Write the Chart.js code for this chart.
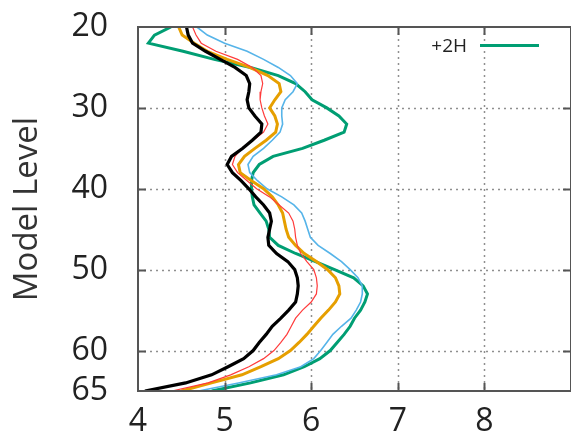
<!DOCTYPE html>
<html>
<head>
<meta charset="utf-8">
<script src="https://cdn.jsdelivr.net/npm/chart.js@4.4.0/dist/chart.umd.min.js"></script>
<style>
  body { margin: 0; background: #fff; }
  #wrap { width: 571px; height: 442px; }
</style>
</head>
<body>
<div id="wrap"><canvas id="myChart" width="571" height="442"></canvas></div>
<script>
// model levels 20..65 (y axis, reversed)
const levels = [20, 21, 22, 23, 24, 25, 26, 27, 28, 29, 30, 31, 32, 33, 34, 35, 36, 37, 38, 39, 40, 41, 42,
    43, 44, 45, 46, 47, 48, 49, 50, 51, 52, 53, 54, 55, 56, 57, 58, 59, 60, 61, 62, 63, 64, 65];

const blackVals = [4.56, 4.58, 4.63, 4.78, 4.95, 5.12, 5.25, 5.29, 5.28, 5.26, 5.28, 5.35, 5.43, 5.42, 5.32,
    5.21, 5.08, 5.03, 5.09, 5.19, 5.28, 5.36, 5.45, 5.52, 5.54, 5.52, 5.50, 5.51, 5.60, 5.73, 5.81, 5.84,
    5.85, 5.84, 5.82, 5.74, 5.65, 5.55, 5.48, 5.40, 5.33, 5.22, 5.04, 4.85, 4.55, 4.08];
const redVals = [4.63, 4.67, 4.73, 4.90, 5.15, 5.32, 5.42, 5.44, 5.42, 5.41, 5.43, 5.46, 5.50, 5.45, 5.33,
    5.20, 5.12, 5.09, 5.15, 5.26, 5.37, 5.52, 5.63, 5.74, 5.79, 5.81, 5.82, 5.84, 5.88, 5.95, 6.03, 6.06,
    6.07, 6.06, 6.00, 5.90, 5.82, 5.77, 5.72, 5.65, 5.57, 5.45, 5.28, 5.07, 4.81, 4.39];
const orangeVals = [4.47, 4.51, 4.65, 4.80, 5.03, 5.29, 5.50, 5.63, 5.65, 5.58, 5.52, 5.58, 5.61, 5.59, 5.48,
    5.35, 5.23, 5.16, 5.18, 5.31, 5.45, 5.55, 5.62, 5.67, 5.69, 5.71, 5.74, 5.82, 5.92, 6.06, 6.19, 6.28,
    6.32, 6.33, 6.28, 6.20, 6.11, 6.03, 5.95, 5.86, 5.76, 5.62, 5.42, 5.20, 4.85, 4.50];
const blueVals = [4.68, 4.80, 5.00, 5.26, 5.45, 5.62, 5.76, 5.84, 5.79, 5.70, 5.66, 5.66, 5.67, 5.64, 5.55,
    5.45, 5.33, 5.27, 5.29, 5.38, 5.49, 5.66, 5.80, 5.89, 5.93, 5.96, 5.99, 6.08, 6.22, 6.35, 6.45, 6.54,
    6.59, 6.59, 6.57, 6.52, 6.46, 6.35, 6.25, 6.18, 6.11, 6.03, 5.88, 5.60, 5.16, 4.70];
const greenVals = [4.38, 4.19, 4.12, 4.52, 4.88, 5.30, 5.62, 5.82, 5.93, 6.01, 6.18, 6.32, 6.41, 6.38, 6.15,
    5.90, 5.56, 5.40, 5.33, 5.31, 5.31, 5.32, 5.34, 5.41, 5.48, 5.51, 5.52, 5.62, 5.82, 6.05, 6.27, 6.49,
    6.60, 6.65, 6.62, 6.57, 6.50, 6.45, 6.38, 6.30, 6.22, 6.10, 5.92, 5.68, 5.30, 4.85];

const xTicks = [4, 5, 6, 7, 8];
const yTicks = [20, 30, 40, 50, 60, 65];
const xGrid = [5, 6, 7, 8];
const yGrid = [30, 40, 50, 60];
const legendLabel = "+2H";

function toPoints(vals) {
    return vals.map((v, i) => ({ x: v, y: levels[i] }));
}

const frameColor = "#555";

// dotted grid, box frame with inward ticks, and the single legend entry
const framePlugin = {
    id: "frame",
    beforeDatasetsDraw(chart) {
        const { ctx, chartArea: a, scales: { x, y } } = chart;
        ctx.save();
        ctx.strokeStyle = "#8f8f8f";
        ctx.lineWidth = 1.5;
        ctx.setLineDash([2, 4]);
        xGrid.forEach((v) => {
            const px = Math.round(x.getPixelForValue(v)) + 0.5;
            ctx.beginPath();
            ctx.moveTo(px, a.top);
            ctx.lineTo(px, a.bottom);
            ctx.stroke();
        });
        yGrid.forEach((v) => {
            const py = Math.round(y.getPixelForValue(v)) + 0.5;
            ctx.beginPath();
            ctx.moveTo(a.left, py);
            ctx.lineTo(a.right, py);
            ctx.stroke();
        });
        ctx.restore();
    },
    afterDatasetsDraw(chart) {
        const { ctx, chartArea: a, scales: { x, y } } = chart;
        ctx.save();
        ctx.strokeStyle = frameColor;
        ctx.lineWidth = 2;
        ctx.setLineDash([]);
        ctx.strokeRect(a.left, a.top, a.right - a.left, a.bottom - a.top);
        const tl = 8;
        ctx.beginPath();
        xGrid.forEach((v) => {
            const px = Math.round(x.getPixelForValue(v)) + 0.5;
            ctx.moveTo(px, a.bottom);
            ctx.lineTo(px, a.bottom - tl);
            ctx.moveTo(px, a.top);
            ctx.lineTo(px, a.top + tl);
        });
        yGrid.forEach((v) => {
            const py = Math.round(y.getPixelForValue(v)) + 0.5;
            ctx.moveTo(a.left, py);
            ctx.lineTo(a.left + tl, py);
            ctx.moveTo(a.right, py);
            ctx.lineTo(a.right - tl, py);
        });
        ctx.stroke();

        // legend: only the +2H entry, text left of the sample line
        const ds = chart.data.datasets.find((d) => d.label === legendLabel);
        ctx.font = "19px 'Open Sans'";
        ctx.fillStyle = "#222";
        ctx.textAlign = "right";
        ctx.textBaseline = "middle";
        ctx.fillText(ds.label, 467, 47);
        ctx.strokeStyle = ds.borderColor;
        ctx.lineWidth = 3;
        ctx.beginPath();
        ctx.moveTo(480, 45.5);
        ctx.lineTo(539, 45.5);
        ctx.stroke();
        ctx.restore();
    },
};

const ctx = document.getElementById("myChart");

const chart = new Chart(ctx, {
    type: "scatter",
    data: {
        datasets: [
            { label: "black", data: toPoints(blackVals), borderColor: "#000000", borderWidth: 3.2 },
            { label: "red", data: toPoints(redVals), borderColor: "#ff3b3b", borderWidth: 1.2 },
            { label: "orange", data: toPoints(orangeVals), borderColor: "#e69f00", borderWidth: 3 },
            { label: "blue", data: toPoints(blueVals), borderColor: "#56b4e9", borderWidth: 1.6 },
            { label: legendLabel, data: toPoints(greenVals), borderColor: "#009e73", borderWidth: 3 },
        ].map((d) => Object.assign(d, { showLine: true, pointRadius: 0, tension: 0, fill: false })),
    },
    options: {
        responsive: false,
        animation: false,
        layout: { autoPadding: false, padding: { top: 27, right: 0, left: 0, bottom: 0 } },
        plugins: {
            legend: { display: false },
            tooltip: { enabled: false },
        },
        scales: {
            x: {
                type: "linear",
                min: 4,
                max: 9,
                grid: { display: false, drawTicks: false },
                border: { display: false },
                afterBuildTicks: (scale) => {
                    scale.ticks = xTicks.map((v) => ({ value: v }));
                },
                afterFit: (scale) => {
                    scale.height = 51;
                    scale.paddingLeft = 0;
                    scale.paddingRight = 0;
                },
                ticks: {
                    padding: 12,
                    color: "#222",
                    font: { family: "'Open Sans'", size: 32 },
                    maxRotation: 0,
                },
            },
            y: {
                type: "linear",
                reverse: true,
                min: 20,
                max: 65,
                grid: { display: false, drawTicks: false },
                border: { display: false },
                afterBuildTicks: (scale) => {
                    scale.ticks = yTicks.map((v) => ({ value: v }));
                },
                afterFit: (scale) => {
                    scale.width = 138;
                    scale.paddingTop = 0;
                    scale.paddingBottom = 0;
                },
                ticks: {
                    padding: 30,
                    color: "#222",
                    font: { family: "'Open Sans'", size: 32 },
                },
                title: {
                    display: true,
                    text: "Model Level",
                    color: "#333",
                    padding: { top: 8, bottom: 0 },
                    font: { family: "'Open Sans'", size: 33 },
                },
            },
        },
    },
    plugins: [framePlugin],
});
</script>
</body>
</html>
